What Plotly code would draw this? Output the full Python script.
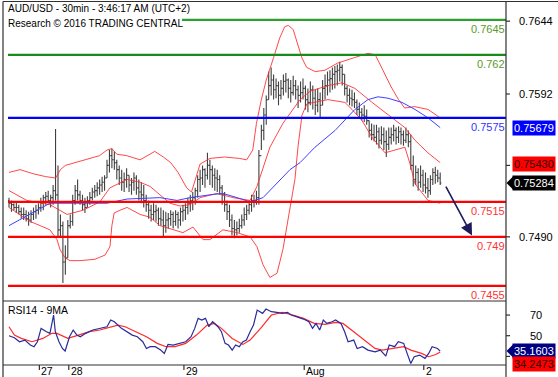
import plotly.graph_objects as go

# ---------------- data ----------------
high = [0.7518, 0.7516, 0.7514, 0.7515, 0.7513, 0.7511, 0.7511, 0.7509, 0.7508, 0.7509,
        0.7511, 0.7513, 0.7514, 0.7518, 0.7520, 0.7522, 0.7523, 0.7520, 0.7527, 0.7567,
        0.7541, 0.7506, 0.7501, 0.7484, 0.7502, 0.7506, 0.7520, 0.7527, 0.7531, 0.7523,
        0.7520, 0.7518, 0.7519, 0.7522, 0.7525, 0.7527, 0.7529, 0.7531, 0.7533, 0.7534,
        0.7545, 0.7552, 0.7553, 0.7551, 0.7545, 0.7541, 0.7538, 0.7536, 0.7539, 0.7534,
        0.7532, 0.7536, 0.7534, 0.7531, 0.7529, 0.7527, 0.7520, 0.7516, 0.7513, 0.7514,
        0.7513, 0.7511, 0.7511, 0.7509, 0.7508, 0.7507, 0.7509, 0.7508, 0.7509, 0.7508,
        0.7511, 0.7513, 0.7514, 0.7518, 0.7520, 0.7522, 0.7525, 0.7534, 0.7538, 0.7541,
        0.7539, 0.7550, 0.7545, 0.7541, 0.7539, 0.7538, 0.7534, 0.7527, 0.7522, 0.7516,
        0.7513, 0.7506, 0.7502, 0.7501, 0.7503, 0.7506, 0.7511, 0.7513, 0.7516, 0.7520,
        0.7520, 0.7523, 0.7552, 0.7570, 0.7582, 0.7591, 0.7608, 0.7611, 0.7606, 0.7603,
        0.7601, 0.7602, 0.7606, 0.7607, 0.7603, 0.7602, 0.7605, 0.7602, 0.7598, 0.7601,
        0.7603, 0.7598, 0.7596, 0.7601, 0.7598, 0.7595, 0.7596, 0.7593, 0.7602, 0.7606,
        0.7608, 0.7609, 0.7611, 0.7612, 0.7613, 0.7615, 0.7613, 0.7606, 0.7598, 0.7596,
        0.7595, 0.7593, 0.7588, 0.7586, 0.7582, 0.7584, 0.7581, 0.7573, 0.7571, 0.7570,
        0.7570, 0.7568, 0.7569, 0.7568, 0.7566, 0.7568, 0.7568, 0.7570, 0.7568, 0.7569,
        0.7568, 0.7566, 0.7568, 0.7566, 0.7563, 0.7548, 0.7541, 0.7539, 0.7541, 0.7538,
        0.7536, 0.7532, 0.7534, 0.7539, 0.7540, 0.7538, 0.7536]
low = [0.7511, 0.7508, 0.7509, 0.7507, 0.7506, 0.7503, 0.7502, 0.7501, 0.7498, 0.7500,
       0.7502, 0.7503, 0.7506, 0.7508, 0.7509, 0.7513, 0.7514, 0.7511, 0.7513, 0.7516,
       0.7490, 0.7490, 0.7457, 0.7463, 0.7475, 0.7496, 0.7498, 0.7513, 0.7516, 0.7513,
       0.7509, 0.7507, 0.7511, 0.7513, 0.7516, 0.7518, 0.7519, 0.7520, 0.7522, 0.7523,
       0.7532, 0.7536, 0.7539, 0.7538, 0.7531, 0.7527, 0.7523, 0.7522, 0.7525, 0.7522,
       0.7520, 0.7523, 0.7520, 0.7516, 0.7514, 0.7511, 0.7508, 0.7503, 0.7501, 0.7502,
       0.7501, 0.7498, 0.7498, 0.7490, 0.7493, 0.7496, 0.7498, 0.7496, 0.7498, 0.7496,
       0.7498, 0.7501, 0.7502, 0.7506, 0.7508, 0.7509, 0.7513, 0.7518, 0.7522, 0.7527,
       0.7525, 0.7531, 0.7527, 0.7525, 0.7523, 0.7522, 0.7520, 0.7513, 0.7508, 0.7502,
       0.7497, 0.7491, 0.7489, 0.7491, 0.7493, 0.7496, 0.7498, 0.7502, 0.7506, 0.7508,
       0.7511, 0.7513, 0.7513, 0.7552, 0.7559, 0.7570, 0.7588, 0.7591, 0.7588, 0.7589,
       0.7584, 0.7588, 0.7591, 0.7593, 0.7589, 0.7586, 0.7591, 0.7588, 0.7582, 0.7586,
       0.7588, 0.7581, 0.7579, 0.7584, 0.7581, 0.7577, 0.7579, 0.7575, 0.7584, 0.7588,
       0.7591, 0.7593, 0.7595, 0.7596, 0.7598, 0.7601, 0.7598, 0.7591, 0.7586, 0.7584,
       0.7583, 0.7582, 0.7577, 0.7575, 0.7573, 0.7572, 0.7570, 0.7561, 0.7559, 0.7558,
       0.7556, 0.7553, 0.7556, 0.7552, 0.7547, 0.7552, 0.7556, 0.7558, 0.7556, 0.7557,
       0.7556, 0.7555, 0.7557, 0.7554, 0.7538, 0.7526, 0.7527, 0.7523, 0.7525, 0.7522,
       0.7521, 0.7518, 0.7520, 0.7527, 0.7528, 0.7529, 0.7527]
close = [0.7514, 0.7513, 0.7511, 0.7511, 0.7508, 0.7506, 0.7506, 0.7503, 0.7502, 0.7506,
         0.7508, 0.7509, 0.7511, 0.7514, 0.7518, 0.7519, 0.7516, 0.7518, 0.7523, 0.7520,
         0.7495, 0.7498, 0.7472, 0.7475, 0.7498, 0.7501, 0.7516, 0.7523, 0.7520, 0.7516,
         0.7513, 0.7511, 0.7516, 0.7518, 0.7522, 0.7523, 0.7525, 0.7527, 0.7529, 0.7532,
         0.7541, 0.7548, 0.7545, 0.7543, 0.7538, 0.7532, 0.7529, 0.7531, 0.7534, 0.7527,
         0.7529, 0.7532, 0.7525, 0.7522, 0.7520, 0.7516, 0.7513, 0.7509, 0.7506, 0.7508,
         0.7509, 0.7503, 0.7502, 0.7498, 0.7502, 0.7503, 0.7506, 0.7501, 0.7506, 0.7502,
         0.7508, 0.7509, 0.7511, 0.7514, 0.7516, 0.7518, 0.7523, 0.7531, 0.7532, 0.7538,
         0.7534, 0.7541, 0.7538, 0.7534, 0.7532, 0.7531, 0.7525, 0.7520, 0.7513, 0.7508,
         0.7502, 0.7496, 0.7495, 0.7496, 0.7498, 0.7502, 0.7506, 0.7509, 0.7513, 0.7516,
         0.7516, 0.7518, 0.7548, 0.7566, 0.7577, 0.7588, 0.7598, 0.7602, 0.7595, 0.7598,
         0.7591, 0.7596, 0.7601, 0.7602, 0.7596, 0.7593, 0.7598, 0.7595, 0.7591, 0.7593,
         0.7596, 0.7588, 0.7586, 0.7595, 0.7589, 0.7584, 0.7588, 0.7584, 0.7596, 0.7598,
         0.7602, 0.7603, 0.7606, 0.7608, 0.7609, 0.7611, 0.7606, 0.7596, 0.7591, 0.7589,
         0.7588, 0.7586, 0.7581, 0.7579, 0.7577, 0.7576, 0.7573, 0.7566, 0.7563, 0.7561,
         0.7565, 0.7559, 0.7563, 0.7558, 0.7556, 0.7561, 0.7563, 0.7566, 0.7561, 0.7565,
         0.7563, 0.7559, 0.7563, 0.7558, 0.7541, 0.7531, 0.7536, 0.7529, 0.7534, 0.7527,
         0.7525, 0.7523, 0.7531, 0.7536, 0.7534, 0.7532, 0.75284]

bb_up_x = [0, 4.5, 10, 15, 19, 21, 23, 27, 33, 37, 40, 42, 44, 48, 53.5, 59.5, 63, 66, 69, 72.5,
           74.5, 76, 78, 82, 88, 94, 97, 99.5, 101, 103, 105, 108, 110.5, 112.5, 114, 116, 118,
           119.5, 121.5, 125, 129, 134, 141, 146.5, 149.5, 152, 156, 159, 161.5, 165.5, 171, 176]
bb_up = [0.7536, 0.7538, 0.7535, 0.7533, 0.7532, 0.7538, 0.7541, 0.7543, 0.7546, 0.7548,
         0.7552, 0.7553, 0.7549, 0.7548, 0.7545, 0.7551, 0.7547, 0.7543, 0.7536, 0.7525,
         0.7522, 0.7531, 0.7542, 0.7546, 0.7547, 0.7546, 0.7545, 0.7552, 0.7571, 0.7588,
         0.7602, 0.7618, 0.7632, 0.7640, 0.7641, 0.7638, 0.7627, 0.7618, 0.7611, 0.7608,
         0.7609, 0.7614, 0.7618, 0.7621, 0.7620, 0.7611, 0.7597, 0.7588, 0.7582, 0.7583,
         0.7581, 0.7575]
bb_mid_x = [0, 7.3, 16.7, 23.7, 30.2, 37.1, 41.2, 48.2, 53.5, 57.6, 61.6, 65.7, 69.8, 73.9, 78,
            84.9, 91.4, 98.4, 101.2, 103.7, 106.5, 111.8, 118.8, 122.9, 130.2, 135.9, 141.2,
            148.2, 156.3, 161.6, 165.7, 171, 176]
bb_mid = [0.7523, 0.7516, 0.7513, 0.7506, 0.7509, 0.7515, 0.7525, 0.7531, 0.7529, 0.7526,
          0.7520, 0.7514, 0.7512, 0.7513, 0.7518, 0.7521, 0.7518, 0.7516, 0.7526, 0.7540,
          0.7554, 0.7571, 0.7588, 0.7594, 0.7598, 0.7600, 0.7596, 0.7586, 0.7575, 0.7568,
          0.7559, 0.7550, 0.7543]
bb_low_x = [0, 4.5, 8.6, 12.7, 16.7, 19.6, 20.8, 22.9, 24.9, 29, 35.1, 39.2, 41.2, 42, 42.9,
            45.3, 48.2, 53.5, 57.6, 61.6, 65.7, 71, 75.1, 79.2, 82, 87.3, 93.1, 98.4, 101.2,
            103.7, 106.5, 109.4, 111.8, 114.7, 116.7, 118, 119.6, 121.6, 130.2, 137.1, 140,
            144.1, 148.2, 153.5, 157.6, 161.6, 163.7, 165.7, 171, 176]
bb_low = [0.7511, 0.7506, 0.7501, 0.7498, 0.7495, 0.7488, 0.7481, 0.7475, 0.7473, 0.7473,
          0.7474, 0.7477, 0.7483, 0.7498, 0.7507, 0.7509, 0.7511, 0.7506, 0.7504, 0.7498,
          0.7496, 0.7493, 0.7497, 0.7488, 0.7488, 0.7495, 0.7493, 0.7490, 0.7483, 0.7470,
          0.7461, 0.7464, 0.7481, 0.7511, 0.7531, 0.7555, 0.7577, 0.7585, 0.7588, 0.7586,
          0.7581, 0.7573, 0.7561, 0.7550, 0.7552, 0.7554, 0.7542, 0.7528, 0.7516, 0.7514]
ma_x = [0, 8.6, 16.7, 23.7, 40, 48.2, 61.6, 68.6, 73.9, 82, 87.3, 93.1, 98.4, 103.7, 109.4,
        114.7, 118.8, 124.9, 133.1, 141.2, 146.5, 150.6, 154.7, 160.4, 165.7, 171, 176]
ma = [0.7498, 0.7506, 0.7514, 0.7514, 0.7514, 0.7517, 0.7518, 0.7516, 0.7518, 0.7520,
      0.7521, 0.7518, 0.7515, 0.7518, 0.7528, 0.7538, 0.7543, 0.7554, 0.7566, 0.7581,
      0.7588, 0.7590, 0.7589, 0.7586, 0.7581, 0.7575, 0.7568]

rsi_x = [0, 2.2, 4.3, 6.5, 8.7, 10.2, 11.6, 13.1, 15.3, 16.7,
         18.2, 18.9, 20.4, 21.8, 22.9, 24.7, 26.2, 27.7, 29.1, 31.3,
         34.2, 37.1, 40, 41.5, 43, 45.9, 48.1, 50.3, 52.4, 54.6,
         56.1, 57.6, 59.7, 61.9, 63.4, 64.9, 67, 69.2, 72.1, 74.3,
         75.8, 77.2, 78.7, 80.2, 81.6, 83.1, 85.3, 86.7, 88.2, 89.6,
         91.1, 92.5, 94, 95.5, 96.9, 98.4, 99.8, 101.3, 103.5, 104.9,
         107.1, 109.3, 111.5, 113.7, 115.1, 117.3, 120.2, 122.4, 123.9, 125.3,
         126.8, 128.3, 129.7, 131.9, 133.3, 135.5, 137, 138.4, 140.7, 142.1,
         144.3, 146.5, 149.4, 151.6, 153.8, 155.2, 157.4, 158.9, 161.1, 162.5,
         164, 165.4, 167.6, 169.8, 171.3, 172.7, 174.9, 176]
rsi = [50.0, 48.1, 44.2, 45.8, 41.0, 39.4, 44.2, 57.1, 53.9, 52.3,
       70.0, 53.9, 44.2, 37.7, 35.2, 49.0, 55.5, 50.6, 49.0, 52.3,
       55.5, 57.1, 58.7, 65.2, 63.5, 57.1, 53.9, 50.6, 49.0, 44.2,
       37.7, 39.4, 39.4, 36.1, 32.9, 41.6, 41.0, 42.6, 44.2, 49.0,
       57.1, 66.8, 65.2, 66.8, 58.7, 63.5, 58.7, 53.9, 42.6, 41.0,
       36.1, 41.0, 39.4, 44.2, 45.8, 53.9, 60.3, 74.8, 71.6, 75.8,
       73.2, 72.6, 71.6, 72.6, 70.0, 68.4, 66.1, 63.5, 57.1, 61.9,
       55.5, 65.2, 61.9, 63.5, 65.2, 61.9, 53.9, 44.2, 45.8, 37.7,
       39.4, 36.1, 34.5, 36.1, 30.3, 41.0, 39.4, 44.2, 42.6, 32.9,
       23.2, 29.7, 31.3, 28.1, 32.9, 39.4, 37.7, 35.1603]
rsima_x = [0, 2.2, 5, 9.4, 13.8, 17.5, 19.6, 24, 28.4, 32.8,
           37.1, 41.5, 44.4, 47.4, 51.7, 56.1, 60.5, 64.1, 67.8, 72.1,
           76.5, 80.9, 83.8, 86.7, 91.1, 95.5, 98.4, 102.7, 107.1, 111.5,
           115.9, 120.2, 124.6, 129, 133.3, 136.3, 140.7, 145, 149.4, 152.3,
           156.7, 161.1, 164, 168.4, 171.3, 174.2, 176]
rsima = [58.7, 50.6, 47.4, 44.2, 47.4, 52.3, 52.3, 47.4, 50.6, 53.9,
         55.5, 58.7, 60.3, 58.7, 53.9, 49.0, 42.6, 39.4, 39.4, 42.6,
         50.6, 60.3, 61.9, 57.1, 47.4, 41.6, 45.8, 57.1, 70.0, 72.6,
         70.0, 66.8, 61.9, 61.0, 62.9, 61.9, 53.9, 45.8, 37.7, 36.1,
         37.7, 39.4, 36.1, 32.9, 29.7, 31.9, 34.2473]

level_vals = [0.7645, 0.762, 0.7575, 0.7515, 0.749, 0.7455]
level_text = ["0.7645", "0.762", "0.7575", "0.7515", "0.749", "0.7455"]
level_start = [70.6, -0.4, -0.4, -0.4, -0.4, -0.4]
level_colors = ["#2e9e2e", "#1a8a1a", "#0000ff", "#ff0000", "#ff0000", "#ff0000"]
level_text_colors = ["#5a9a2a", "#5a9a2a", "#3333ff", "#ff3333", "#ff3333", "#ff3333"]

price_ticks = [0.7644, 0.7592, 0.7541, 0.7490]
price_tick_text = ["0.7644", "0.7592", "", "0.7490"]
rsi_ticks = [70, 50, 30]
rsi_tick_text = ["70", "50", ""]

day_ticks = [12.4, 24.4, 71.4, 120.5, 169.3]
day_labels = ["27", "28", "29", "Aug", "2"]

last_ma, last_mid, last_close = 0.75679, 0.75430, 0.75284
last_rsi, last_rsima = 35.1603, 34.2473
arrow_from = (178, 0.7527)
arrow_to = (189, 0.7491)

# ---------------- layout helpers ----------------
W, H = 558, 377
ML, MR, MT, MB = 8, 52, 2, 12
PW = W - ML - MR
PH = H - MT - MB
X_RANGE = [-0.41, 202.86]
Y_RANGE = [0.74449, 0.76577]
RSI_RANGE = [21.7, 82.6]
FONT = "Liberation Sans, Arial, sans-serif"


def pxx(px):
    return (px - ML) / PW


def pxy(py):
    return (H - MB - py) / PH


bars = list(range(len(close)))
opens = [0.7516] + close[:-1]

fig = go.Figure()
band_style = dict(color="rgba(255,40,40,0.85)", width=1)
fig.add_trace(go.Scatter(x=bb_up_x, y=bb_up, mode="lines", line=band_style, yaxis="y"))
fig.add_trace(go.Scatter(x=bb_mid_x, y=bb_mid, mode="lines", line=band_style, yaxis="y"))
fig.add_trace(go.Scatter(x=bb_low_x, y=bb_low, mode="lines", line=band_style, yaxis="y"))
fig.add_trace(go.Scatter(x=ma_x, y=ma, mode="lines", line=dict(color="#4040ff", width=1), yaxis="y"))
fig.add_trace(go.Ohlc(x=bars, open=opens, high=high, low=low, close=close, yaxis="y",
                      tickwidth=0.5,
                      increasing=dict(line=dict(color="#404040", width=1.1)),
                      decreasing=dict(line=dict(color="#404040", width=1.1))))
fig.add_trace(go.Scatter(x=rsima_x, y=rsima, mode="lines", line=dict(color="#ff2a2a", width=1.2), yaxis="y2"))
fig.add_trace(go.Scatter(x=rsi_x, y=rsi, mode="lines", line=dict(color="#2a2a9a", width=1.2), yaxis="y2"))

shapes = []
for v, c, s in zip(level_vals, level_colors, level_start):
    shapes.append(dict(type="line", xref="x", yref="y", x0=s, x1=X_RANGE[1], y0=v, y1=v,
                       line=dict(color=c, width=2.2), layer="above"))
frame = dict(color="#303030", width=1.2)
shapes += [
    dict(type="line", xref="paper", yref="paper", x0=pxx(3), x1=pxx(558), y0=pxy(1.5), y1=pxy(1.5), line=frame),
    dict(type="line", xref="paper", yref="paper", x0=pxx(3), x1=pxx(3), y0=pxy(1.5), y1=pxy(377), line=frame),
    dict(type="line", xref="paper", yref="paper", x0=pxx(506), x1=pxx(506), y0=pxy(1.5), y1=pxy(377), line=frame),
    dict(type="line", xref="paper", yref="paper", x0=pxx(3), x1=pxx(506), y0=pxy(301), y1=pxy(301), line=frame),
    dict(type="line", xref="paper", yref="paper", x0=pxx(3), x1=pxx(506), y0=pxy(365), y1=pxy(365), line=frame),
]
for v in price_ticks:
    shapes.append(dict(type="line", xref="paper", yref="y", x0=pxx(506), x1=pxx(510), y0=v, y1=v, line=frame))
for v in rsi_ticks:
    shapes.append(dict(type="line", xref="paper", yref="y2", x0=pxx(506), x1=pxx(510), y0=v, y1=v, line=frame))
for t in day_ticks:
    shapes.append(dict(type="line", xref="x", yref="paper", x0=t, x1=t, y0=pxy(365), y1=pxy(370), line=frame))

ph_price = 7 / 14000
shapes.append(dict(type="path", xref="paper", yref="y", fillcolor="#000000", line=dict(width=0),
                   path=f"M {pxx(506.5)},{last_close} L {pxx(513.5)},{last_close + ph_price} "
                        f"L {pxx(513.5)},{last_close - ph_price} Z"))
ph_rsi = 7 / 1.034
shapes.append(dict(type="path", xref="paper", yref="y2", fillcolor="#000080", line=dict(width=0),
                   path=f"M {pxx(506.5)},{last_rsi} L {pxx(513.5)},{last_rsi + ph_rsi} "
                        f"L {pxx(513.5)},{last_rsi - ph_rsi} Z"))

ann = []
ann.append(dict(text="AUD/USD - 30min - 3:46:17 AM (UTC+2)", xref="paper", yref="paper",
                x=pxx(6), y=pxy(9), xanchor="left", yanchor="middle", showarrow=False,
                font=dict(size=10, color="#000")))
ann.append(dict(text="Research © 2016 TRADING CENTRAL", xref="paper", yref="paper",
                x=pxx(6), y=pxy(23), xanchor="left", yanchor="middle", showarrow=False,
                font=dict(size=10, color="#000")))
ann.append(dict(text="RSI14 - 9MA", xref="paper", yref="paper",
                x=pxx(6), y=pxy(310), xanchor="left", yanchor="middle", showarrow=False,
                font=dict(size=10.5, color="#000")))
for v, t, c in zip(level_vals, level_text, level_text_colors):
    ann.append(dict(text=t, xref="paper", yref="y", x=pxx(507), y=v, xanchor="right",
                    yanchor="top", yshift=-1, showarrow=False, font=dict(size=11, color=c)))
for v, t in zip(price_ticks, price_tick_text):
    if t:
        ann.append(dict(text=t, xref="paper", yref="y", x=pxx(517), y=v, xanchor="left",
                        yanchor="middle", showarrow=False, font=dict(size=11, color="#000")))
for v, t in zip(rsi_ticks, rsi_tick_text):
    if t:
        ann.append(dict(text=t, xref="paper", yref="y2", x=pxx(528), y=v, xanchor="left",
                        yanchor="middle", showarrow=False, font=dict(size=11, color="#000")))
for t, lab in zip(day_ticks, day_labels):
    ann.append(dict(text=lab, xref="x", yref="paper", x=t, y=pxy(365), xanchor="left",
                    yanchor="top", xshift=0, yshift=2, showarrow=False, font=dict(size=10.5, color="#000")))

box = dict(xref="paper", x=pxx(512), xanchor="left", yanchor="middle", showarrow=False, borderpad=1)
ann.append(dict(box, text=f"{last_ma:.5f}", yref="y", y=last_ma, bgcolor="#0000ff",
                font=dict(size=11, color="#fff")))
ann.append(dict(box, text=f"{last_mid:.5f}", yref="y", y=last_mid, yshift=-1, bgcolor="#ff0000",
                font=dict(size=11, color="#300000")))
ann.append(dict(box, text=f"{last_close:.5f}", yref="y", y=last_close, bgcolor="#000000",
                font=dict(size=11, color="#fff")))
ann.append(dict(box, text=f"{last_rsi:.4f}", yref="y2", y=last_rsi, bgcolor="#000080",
                font=dict(size=11, color="#fff")))
ann.append(dict(box, text=f"{last_rsima:.4f}", yref="y2", y=last_rsi, yshift=-13, bgcolor="#ff0000",
                font=dict(size=11, color="#300000")))
ann.append(dict(x=arrow_to[0], y=arrow_to[1], ax=arrow_from[0], ay=arrow_from[1], xref="x", yref="y",
                axref="x", ayref="y", showarrow=True, arrowhead=2, arrowsize=1.5, arrowwidth=1.6,
                arrowcolor="#1c1c5c", text=""))

fig.update_layout(
    width=W, height=H, margin=dict(l=ML, r=MR, t=MT, b=MB),
    paper_bgcolor="#fff", plot_bgcolor="#fff", showlegend=False,
    font=dict(family=FONT, size=11, color="#000"),
    xaxis=dict(range=X_RANGE, visible=False, anchor="y2", rangeslider=dict(visible=False), fixedrange=True),
    yaxis=dict(range=Y_RANGE, domain=[pxy(300), 1], visible=False, anchor="x"),
    yaxis2=dict(range=RSI_RANGE, domain=[0, pxy(302)], visible=False, anchor="x"),
    shapes=shapes, annotations=ann,
)
fig.write_html("out.html", config={"displayModeBar": False},
               post_script="document.body.style.margin='0';document.body.style.padding='0';"
                           "document.body.style.overflow='hidden';")
